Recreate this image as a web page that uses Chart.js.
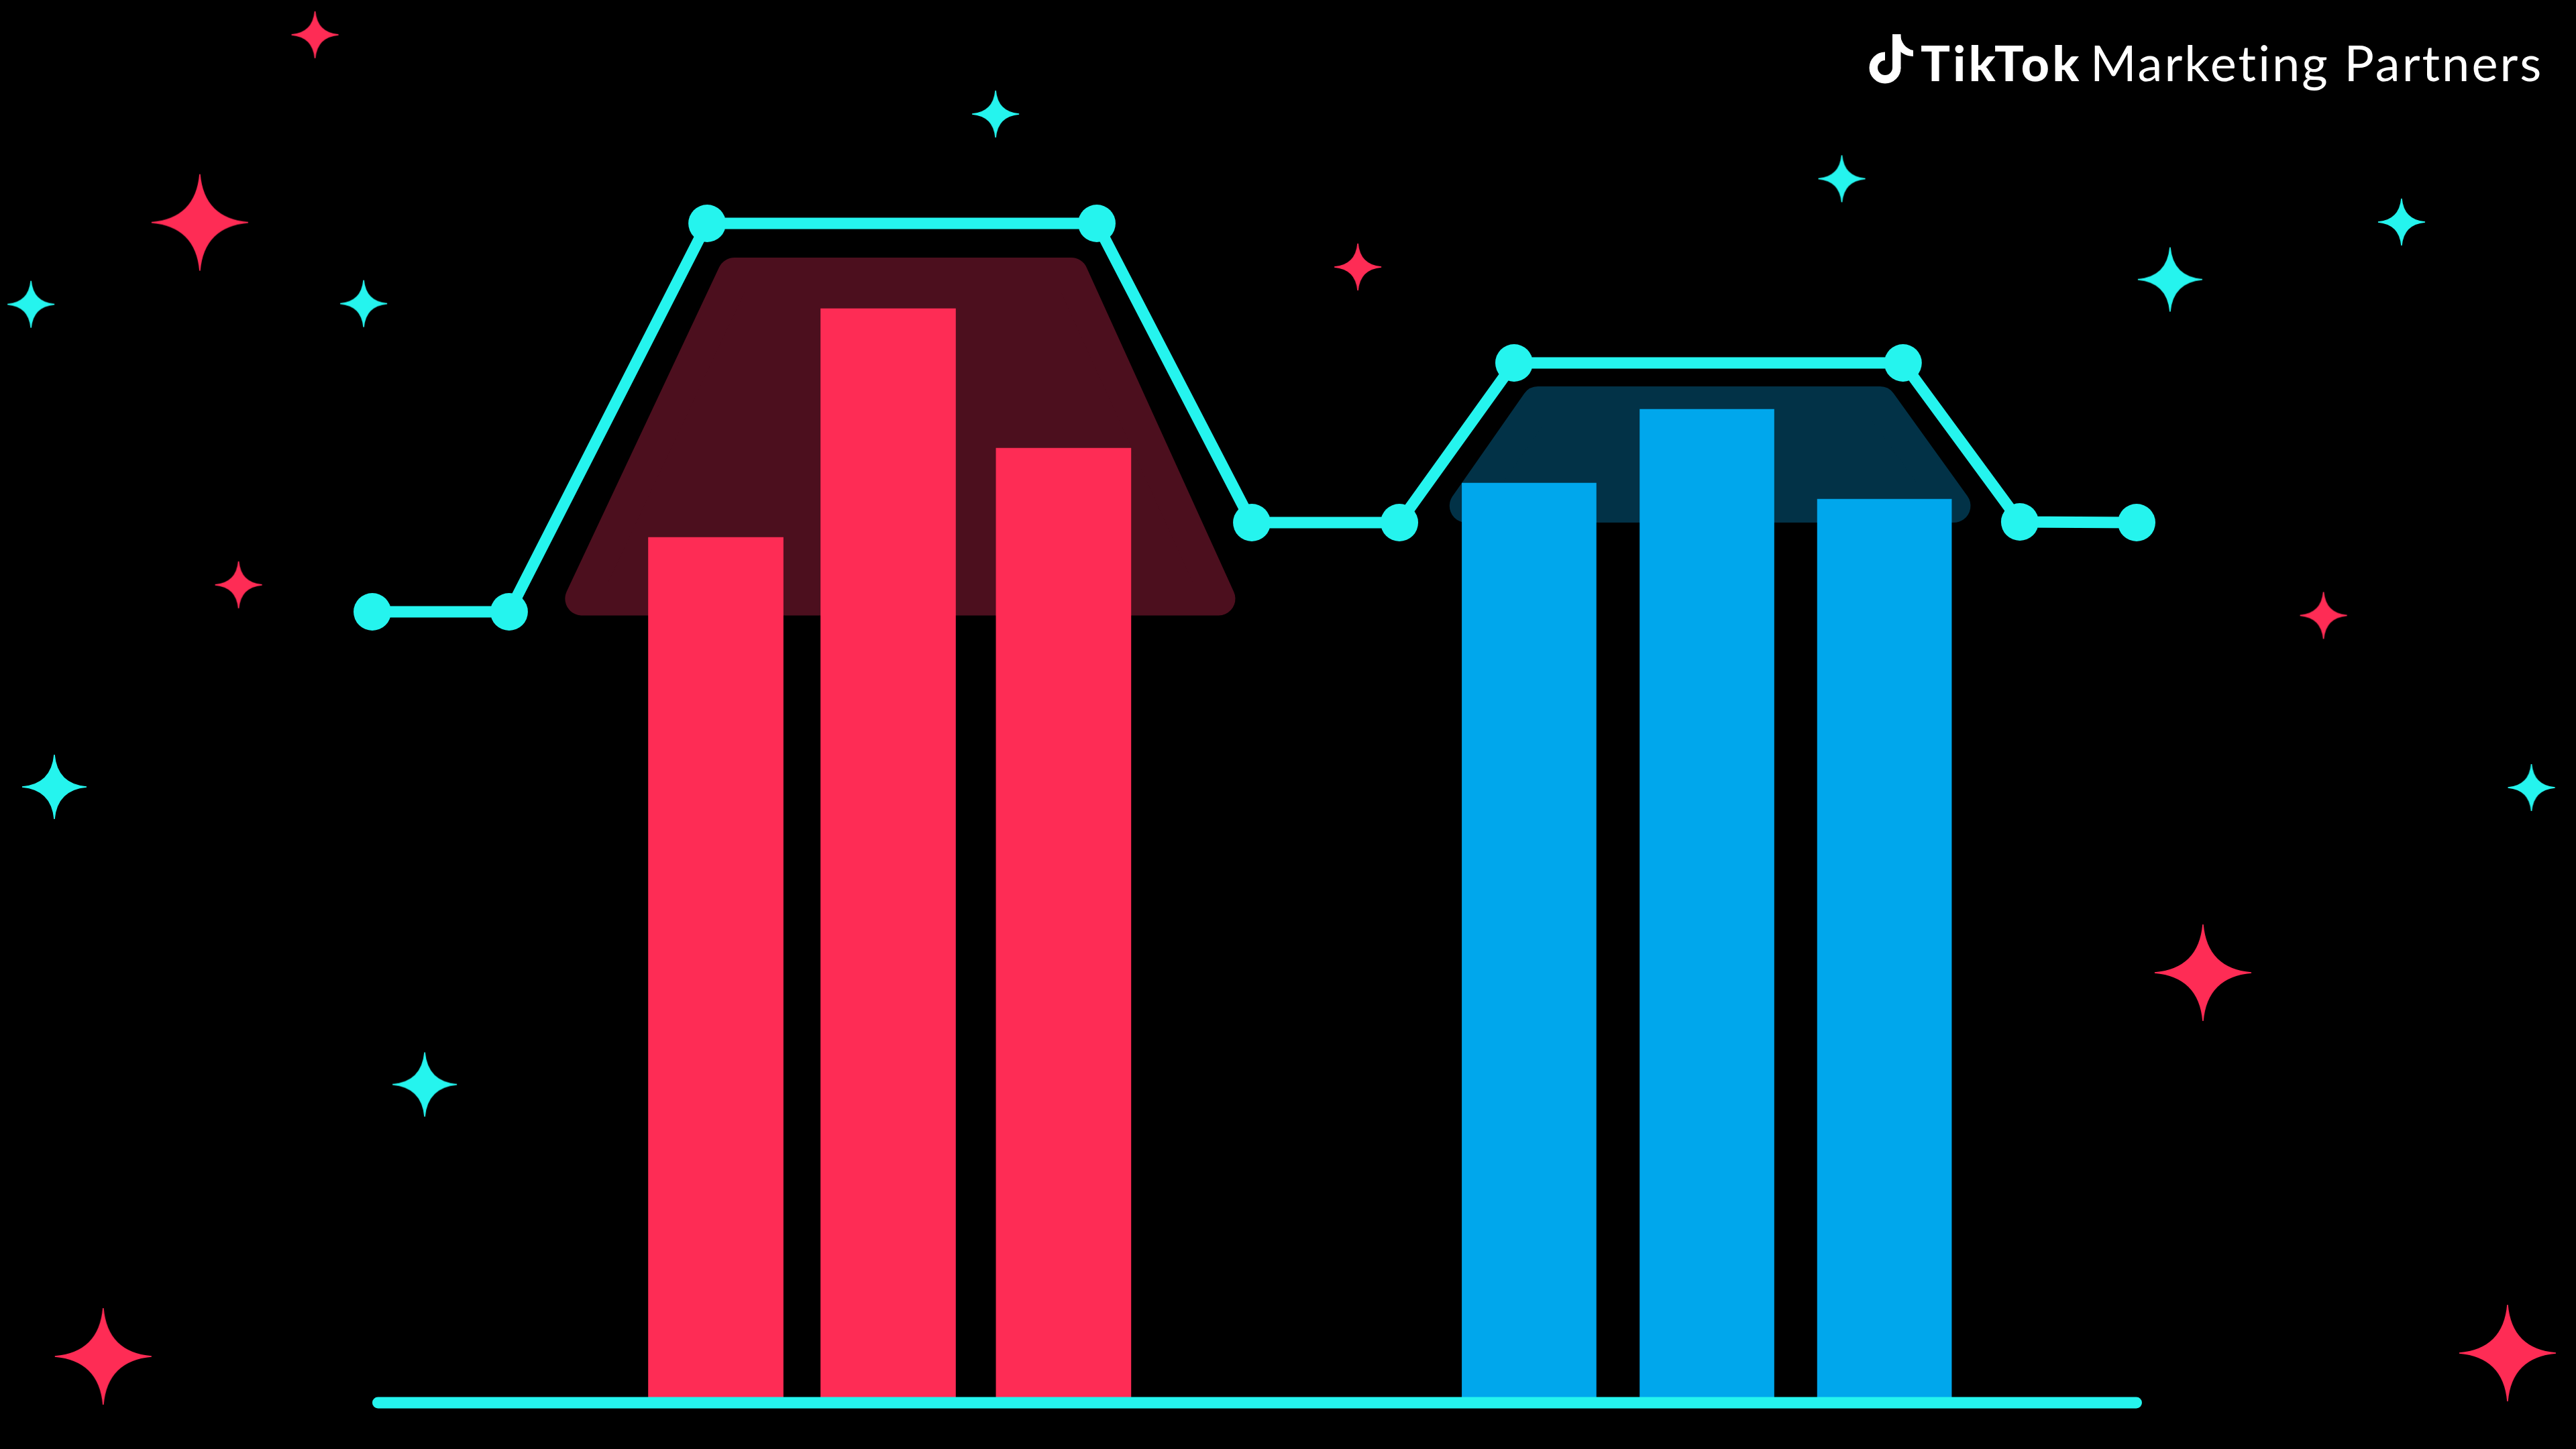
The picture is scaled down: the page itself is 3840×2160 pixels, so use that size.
<!DOCTYPE html>
<html>
<head>
<meta charset="utf-8">
<title>TikTok Marketing Partners</title>
<script src="https://cdn.jsdelivr.net/npm/chart.js@4.4.1/dist/chart.umd.min.js"></script>
<style>
  html, body { margin: 0; padding: 0; background: #000; }
  #wrap { position: relative; width: 3840px; height: 2160px; background: #000; overflow: hidden; }
  #chartBox { position: absolute; left: 0; top: 0; width: 3840px; height: 2160px; }
  #note { position: absolute; left: 2786px; top: 51px; width: 66px; height: 74px; }
  .logo { position: absolute; color: #fff; font-family: Lato, "Noto Sans", sans-serif; line-height: 1; white-space: nowrap; }
  #brand { left: 2863px; top: 57px; font-size: 73px; font-weight: 900; letter-spacing: 4.5px; }
  #tag { left: 3116px; top: 56px; font-size: 74px; font-weight: 400; letter-spacing: 3px; }
</style>
</head>
<body>
<div id="wrap">
  <div id="chartBox"><canvas id="grafico"></canvas></div>
  <svg id="note" viewBox="0 0 66 74">
    <rect x="35" y="0" width="12.5" height="51" fill="#fff"></rect>
    <path d="M 41.25 50 A 17.25 17.25 0 1 1 24 32.75" fill="none" stroke="#fff" stroke-width="12.5"></path>
    <path d="M 47 0 C 47 12 55 22 66 24 L 66 33 C 57 33 50 29 46 25 Z" fill="#fff"></path>
  </svg>
  <span class="logo" id="brand">TikTok</span>
  <span class="logo" id="tag">Marketing Partners</span>
</div>

<script>
// cyan line (ten points)
const linhaX = [0, 0.773, 1.892, 4.094, 4.970, 5.804, 6.452, 8.650, 9.310, 9.970];
const linhaY = [58.55, 58.55, 87.5, 87.5, 65.2, 65.2, 77.1, 77.1, 65.25, 65.2];

// bars
const barrasVermelhasX = [1.941, 2.915, 3.906];
const barrasVermelhasY = [64.1, 81.15, 70.75];
const barrasAzuisX = [6.537, 7.542, 8.545];
const barrasAzuisY = [68.15, 73.65, 66.95];

// shaded bands behind each bar group (trapezoids)
const faixaVermelhaX = [1.184, 2.046, 3.950, 4.782];
const faixaVermelhaY = [59.525, 83.7, 83.7, 59.525];
const faixaAzulX = [6.182, 6.587, 8.520, 8.937];
const faixaAzulY = [66.45, 74.1, 74.1, 66.45];

// baseline
const baseX = [0.032, 9.968];
const baseY = [-0.4, -0.4];

// sparkles
const estrelasVermelhasGrandesX = [-0.975, -1.521, 10.345, 12.066];
const estrelasVermelhasGrandesY = [87.57, 3.05, 31.65, 3.3];
const estrelasVermelhasPequenasX = [-0.324, 5.569, -0.756, 11.026];
const estrelasVermelhasPequenasY = [101.56, 84.25, 60.56, 58.28];
const estrelasCianoMediasX = [10.159, -1.797, 0.296];
const estrelasCianoMediasY = [83.32, 45.5, 23.32];
const estrelasCianoPequenasX = [-1.929, -0.049, 3.522, 8.304, 11.467, 12.201];
const estrelasCianoPequenasY = [81.47, 81.52, 95.65, 90.83, 87.6, 45.45];

const CIANO = "#25F4EE";
const VERMELHO = "#FE2C55";
const AZUL = "#00A7EC";

function pontos(xs, ys) {
  return xs.map((x, i) => ({ x: x, y: ys[i] }));
}

function fechado(xs, ys) {
  const p = pontos(xs, ys);
  p.push({ x: xs[0], y: ys[0] });
  return p;
}

function desenharEstrela(cor, tamanho) {
  const c = document.createElement("canvas");
  c.width = tamanho;
  c.height = tamanho;
  const g = c.getContext("2d");
  const r = tamanho / 2 - 1;
  const k = 0.08 * r;
  g.translate(tamanho / 2, tamanho / 2);
  g.fillStyle = cor;
  g.strokeStyle = cor;
  g.lineWidth = 1.5;
  g.beginPath();
  g.moveTo(0, -r);
  g.quadraticCurveTo(k, -k, r, 0);
  g.quadraticCurveTo(k, k, 0, r);
  g.quadraticCurveTo(-k, k, -r, 0);
  g.quadraticCurveTo(-k, -k, 0, -r);
  g.closePath();
  g.fill();
  g.stroke();
  return c;
}

function faixa(xs, ys, cor) {
  return {
    type: "line",
    data: fechado(xs, ys),
    backgroundColor: cor,
    borderColor: cor,
    borderWidth: 50,
    borderJoinStyle: "round",
    borderCapStyle: "round",
    fill: "shape",
    pointRadius: 0,
    tension: 0,
    order: 5
  };
}

function estrelas(xs, ys, cor, tamanho) {
  return {
    type: "line",
    data: pontos(xs, ys),
    showLine: false,
    pointStyle: desenharEstrela(cor, tamanho),
    pointRadius: tamanho / 2,
    order: 1
  };
}

const ctx = document.getElementById("grafico").getContext("2d");

new Chart(ctx, {
  type: "bar",
  data: {
    datasets: [
      faixa(faixaVermelhaX, faixaVermelhaY, "#4C0F1E"),
      faixa(faixaAzulX, faixaAzulY, "#023247"),
      {
        type: "bar",
        data: pontos(barrasVermelhasX, barrasVermelhasY),
        backgroundColor: VERMELHO,
        barThickness: 201,
        grouped: false,
        order: 4
      },
      {
        type: "bar",
        data: pontos(barrasAzuisX, barrasAzuisY),
        backgroundColor: AZUL,
        barThickness: 200,
        grouped: false,
        order: 4
      },
      {
        type: "line",
        data: pontos(baseX, baseY),
        borderColor: CIANO,
        borderWidth: 17,
        borderCapStyle: "round",
        pointRadius: 0,
        order: 3
      },
      {
        type: "line",
        data: pontos(linhaX, linhaY),
        borderColor: CIANO,
        borderWidth: 17,
        borderJoinStyle: "round",
        pointRadius: 28,
        pointBorderWidth: 0,
        pointBackgroundColor: CIANO,
        tension: 0,
        order: 2
      },
      estrelas(estrelasVermelhasGrandesX, estrelasVermelhasGrandesY, VERMELHO, 146),
      estrelas(estrelasVermelhasPequenasX, estrelasVermelhasPequenasY, VERMELHO, 72),
      estrelas(estrelasCianoMediasX, estrelasCianoMediasY, CIANO, 98),
      estrelas(estrelasCianoPequenasX, estrelasCianoPequenasY, CIANO, 72)
    ]
  },
  options: {
    responsive: true,
    maintainAspectRatio: false,
    animation: false,
    events: [],
    layout: { padding: 0, autoPadding: false },
    plugins: {
      legend: { display: false },
      tooltip: { enabled: false }
    },
    scales: {
      x: {
        type: "linear",
        display: false,
        offset: false,
        min: -2.104,
        max: 12.453
      },
      y: {
        type: "linear",
        display: false,
        min: -3.85,
        max: 104.15
      }
    }
  }
});
</script>
</body>
</html>
